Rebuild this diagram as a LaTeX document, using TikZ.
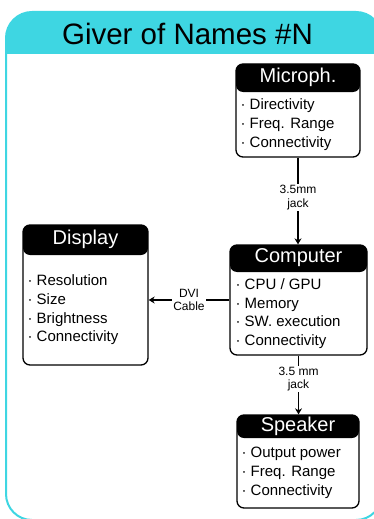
\documentclass[tikz,border=0pt]{standalone}
\usepackage{fontspec}
\setmainfont{Liberation Sans}
\usetikzlibrary{arrows.meta}
\definecolor{frametone}{RGB}{62,214,226}
\tikzstyle{devicebox} = [draw, line width=1.3pt, rounded corners=7pt, fill=white, inner sep=0pt,
  path picture={\fill[black] (path picture bounding box.north west) rectangle ([yshift=-#1]path picture bounding box.north east);}]
\tikzstyle{devicename} = [text=white, anchor=north, inner sep=0pt, font=\fontsize{20}{24}\selectfont]
\tikzstyle{devicelist} = [anchor=west, align=left, inner sep=0pt, font=\fontsize{15}{18.7}\selectfont]
\tikzstyle{linklabel} = [fill=white, align=center, inner sep=1pt, font=\fontsize{12}{13.5}\selectfont]
\tikzstyle{linkarrow} = [-{Stealth[length=6pt,width=7pt]}, line width=1.4pt]

\begin{document}
\begin{tikzpicture}[x=1pt, y=-1pt]
		\useasboundingbox (0,0) rectangle (374,519);
		% frame and title band
		\begin{scope}
			\clip [rounded corners=26pt] (6,12) rectangle (382,520);
			\fill [frametone] (6,12) rectangle (382,54);
		\end{scope}
		\draw [frametone, line width=2pt, rounded corners=26pt] (6,12) rectangle (382,520);
		\node (title) at (187.5,33.5) {\fontsize{29.5}{34}\selectfont Giver of Names \#N};
		% devices
		\node (mic) [devicebox=28pt, minimum width=124pt, minimum height=93pt] at (298,110.5) {};
		\node (micname) [devicename, minimum height=28pt] at (mic.north) {Microph.};
		\node (miclist) [devicelist] at ([xshift=5pt,yshift=-14pt]mic.west) {· Directivity\\· Freq. Range\\· Connectivity};
		\node (display) [devicebox=30pt, minimum width=125pt, minimum height=140pt] at (85.5,295) {};
		\node (displayname) [devicename, minimum height=30pt] at (display.north) {Display};
		\node (displaylist) [devicelist] at ([xshift=5pt,yshift=-15pt]display.west) {· Resolution\\· Size\\· Brightness\\· Connectivity};
		\node (computer) [devicebox=27pt, minimum width=137pt, minimum height=110pt] at (298.5,300) {};
		\node (computername) [devicename, minimum height=27pt] at (computer.north) {Computer};
		\node (computerlist) [devicelist] at ([xshift=6pt,yshift=-13.5pt]computer.west) {· CPU / GPU\\· Memory\\· SW. execution\\· Connectivity};
		\node (speaker) [devicebox=23pt, minimum width=122pt, minimum height=93pt] at (298,461.5) {};
		\node (speakername) [devicename, minimum height=23pt] at (speaker.north) {Speaker};
		\node (speakerlist) [devicelist] at ([xshift=5pt,yshift=-11.5pt]speaker.west) {· Output power\\· Freq. Range\\· Connectivity};
		% links
		\draw [linkarrow] (mic.south) -- node (miclink) [linklabel, pos=0.46] {3.5mm\\jack} (mic.south |- computer.north);
		\draw [linkarrow] (computer.west) -- node (displaylink) [linklabel] {DVI\\Cable} (display.east |- computer.west);
		\draw [linkarrow] (computer.south) -- node (speakerlink) [linklabel, pos=0.4] {3.5 mm\\jack} (computer.south |- speaker.north);
	\end{tikzpicture}
\end{document}
